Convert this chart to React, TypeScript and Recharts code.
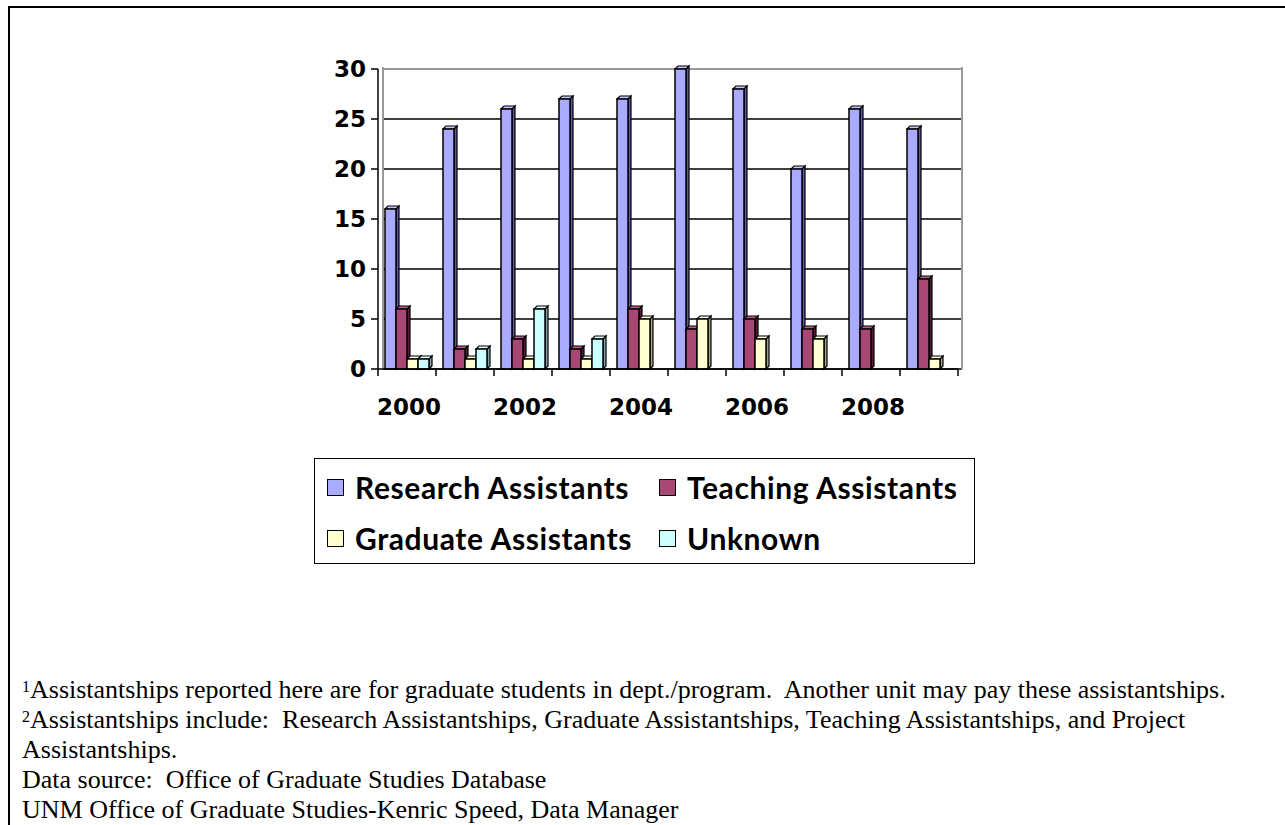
import { BarChart, Bar, XAxis, YAxis, CartesianGrid } from "recharts";

const years = ["2000", "2001", "2002", "2003", "2004", "2005", "2006", "2007", "2008", "2009"];
const research = [16, 24, 26, 27, 27, 30, 28, 20, 26, 24];
const teaching = [6, 2, 3, 2, 6, 4, 5, 4, 4, 9];
const graduate = [1, 1, 1, 1, 5, 5, 3, 3, 0, 1];
const unknown = [1, 2, 6, 3, 0, 0, 0, 0, 0, 0];
const yTicks = [0, 5, 10, 15, 20, 25, 30];

const series = [
  { key: "research", name: "Research Assistants", fill: "#aaaaff", side: "#5c5c9e", top: "#c4c4ff" },
  { key: "teaching", name: "Teaching Assistants", fill: "#a64873", side: "#5a1c3a", top: "#b86088" },
  { key: "graduate", name: "Graduate Assistants", fill: "#ffffd0", side: "#a3a380", top: "#ffffe4" },
  { key: "unknown", name: "Unknown", fill: "#ccffff", side: "#7fa6a6", top: "#e4ffff" },
];

const footnotes = [
  { sup: "1", text: "Assistantships reported here are for graduate students in dept./program.  Another unit may pay these assistantships." },
  { sup: "2", text: "Assistantships include:  Research Assistantships, Graduate Assistantships, Teaching Assistantships, and Project" },
  { sup: "", text: "Assistantships." },
  { sup: "", text: "Data source:  Office of Graduate Studies Database" },
  { sup: "", text: "UNM Office of Graduate Studies-Kenric Speed, Data Manager" },
];

const data = years.map((year, i) => ({
  year,
  research: research[i],
  teaching: teaching[i],
  graduate: graduate[i],
  unknown: unknown[i],
}));

const axisFont = { fontFamily: "DejaVu Sans", fontWeight: 700, fontSize: 23, fill: "#000" };

function bar3d(front: string, side: string, top: string) {
  return (props: any) => {
    const { x, y, width, height } = props;
    if (!height || height <= 0) return <g />;
    const d = 3;
    return (
      <g>
        <polygon
          points={`${x + width},${y} ${x + width + d},${y - d} ${x + width + d},${y + height - d} ${x + width},${y + height}`}
          fill={side}
          stroke="#000"
          strokeWidth={1.2}
        />
        <polygon
          points={`${x},${y} ${x + d},${y - d} ${x + width + d},${y - d} ${x + width},${y}`}
          fill={top}
          stroke="#000"
          strokeWidth={1.2}
        />
        <rect x={x} y={y} width={width} height={height} fill={front} stroke="#000" strokeWidth={1.5} />
      </g>
    );
  };
}

// ticks sit on category boundaries, labels only on even years
function XTick(props: any) {
  const { x, y, payload, index, visibleTicksCount, width } = props;
  const band = width && visibleTicksCount ? width / visibleTicksCount : 58;
  const axisY = y - 9;
  const left = x - band / 2;
  return (
    <g>
      <line x1={left} x2={left} y1={axisY} y2={axisY + 7} stroke="#000" strokeWidth={1.5} />
      {index === visibleTicksCount - 1 && (
        <line x1={left + band} x2={left + band} y1={axisY} y2={axisY + 7} stroke="#000" strokeWidth={1.5} />
      )}
      {index % 2 === 0 && (
        <text x={x + 2} y={axisY + 46} textAnchor="middle" {...axisFont}>
          {payload.value}
        </text>
      )}
    </g>
  );
}

function hLine(p: any) {
  const isTop = p.y !== undefined && Math.abs(p.y1 - p.y) < 1;
  return (
    <line
      key={p.key}
      x1={p.x1 + 5}
      x2={p.x2 + 4}
      y1={p.y1}
      y2={p.y2}
      stroke={isTop ? "#999" : "#000"}
      strokeWidth={isTop ? 2 : 1.5}
    />
  );
}

function vLine(p: any) {
  return <line key={p.key} x1={p.x1} x2={p.x2} y1={p.y1 - 2} y2={p.y2} stroke="#999" strokeWidth={2} />;
}

export default function App() {
  return (
    <div style={{ position: "absolute", left: 0, top: 0, width: 1285, height: 825, overflow: "hidden", background: "#fff" }}>
      <div
        style={{
          position: "absolute",
          left: 8,
          top: 6,
          width: 1400,
          height: 1000,
          borderTop: "2px solid #000",
          borderLeft: "2px solid #000",
        }}
      />
      <div style={{ position: "absolute", left: 0, top: 0 }}>
        <BarChart
          width={1000}
          height={440}
          data={data}
          margin={{ top: 69, right: 42, bottom: 11, left: 0 }}
          barCategoryGap={7}
          barGap={0}
        >
          <CartesianGrid horizontal={hLine} vertical={vLine} verticalPoints={[383, 962]} />
          <XAxis
            dataKey="year"
            interval={0}
            height={60}
            tickSize={7}
            tickMargin={2}
            tickLine={false}
            axisLine={{ stroke: "#000", strokeWidth: 1.5 }}
            tick={<XTick />}
          />
          <YAxis
            width={378}
            domain={[0, 30]}
            ticks={yTicks}
            interval={0}
            tickSize={7}
            tickMargin={5}
            axisLine={{ stroke: "#000", strokeWidth: 1.5 }}
            tickLine={{ stroke: "#000", strokeWidth: 1.5 }}
            tick={axisFont}
          />
          {series.map((s) => (
            <Bar
              key={s.key}
              dataKey={s.key}
              name={s.name}
              fill={s.fill}
              shape={bar3d(s.fill, s.side, s.top)}
              isAnimationActive={false}
            />
          ))}
        </BarChart>
      </div>

      <div
        style={{
          position: "absolute",
          left: 314,
          top: 458,
          width: 659,
          height: 104,
          border: "1.5px solid #000",
          fontFamily: "Lato",
          fontWeight: 700,
          fontSize: 30,
          letterSpacing: 0.6,
          color: "#000",
        }}
      >
        {series.map((s, i) => (
          <div
            key={s.key}
            style={{
              position: "absolute",
              left: i % 2 === 0 ? 12 : 344,
              top: i < 2 ? 11 : 62,
              display: "flex",
              alignItems: "center",
              height: 34,
              whiteSpace: "nowrap",
            }}
          >
            <span
              style={{
                display: "inline-block",
                width: 15,
                height: 15,
                background: s.fill,
                border: "1.5px solid #000",
                marginRight: 11,
              }}
            />
            {s.name}
          </div>
        ))}
      </div>

      <div
        style={{
          position: "absolute",
          left: 22,
          top: 675,
          fontFamily: "Liberation Serif",
          fontSize: 26,
          lineHeight: "30px",
          color: "#000",
          whiteSpace: "pre",
        }}
      >
        {footnotes.map((f, i) => (
          <div key={i}>
            {f.sup && <span style={{ fontSize: 16, verticalAlign: "top", lineHeight: "24px" }}>{f.sup}</span>}
            {f.text}
          </div>
        ))}
      </div>
    </div>
  );
}
